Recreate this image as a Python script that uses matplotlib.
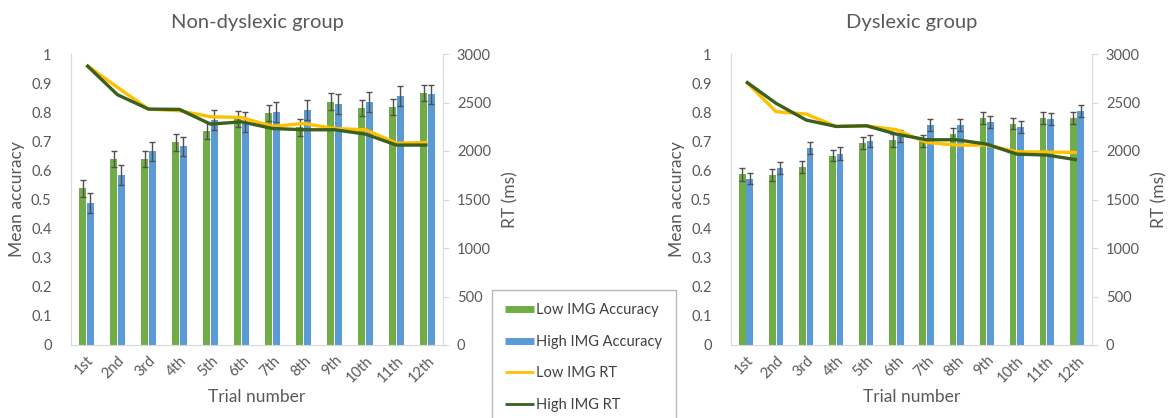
import numpy as np
import matplotlib.pyplot as plt
from matplotlib.lines import Line2D

plt.rcParams['font.family'] = ['Lato', 'DejaVu Sans']

trials = ['1st', '2nd', '3rd', '4th', '5th', '6th', '7th', '8th', '9th', '10th', '11th', '12th']

# Non-dyslexic group
nd_low_acc = [0.538, 0.638, 0.638, 0.697, 0.737, 0.776, 0.797, 0.748, 0.836, 0.814, 0.818, 0.865]
nd_high_acc = [0.489, 0.585, 0.665, 0.683, 0.773, 0.767, 0.800, 0.807, 0.828, 0.836, 0.857, 0.861]
nd_low_err = [0.029, 0.028, 0.028, 0.029, 0.030, 0.028, 0.028, 0.029, 0.029, 0.028, 0.028, 0.028]
nd_high_err = [0.034, 0.034, 0.034, 0.033, 0.033, 0.035, 0.034, 0.034, 0.035, 0.035, 0.034, 0.034]
nd_low_rt = [2886, 2656, 2432, 2415, 2353, 2346, 2253, 2284, 2232, 2219, 2081, 2088]
nd_high_rt = [2886, 2580, 2432, 2429, 2277, 2301, 2232, 2219, 2219, 2174, 2061, 2061]

# Dyslexic group
d_low_acc = [0.587, 0.584, 0.612, 0.651, 0.694, 0.704, 0.702, 0.725, 0.779, 0.761, 0.779, 0.779]
d_high_acc = [0.572, 0.609, 0.677, 0.658, 0.701, 0.719, 0.755, 0.755, 0.765, 0.750, 0.776, 0.804]
d_low_err = [0.022, 0.022, 0.021, 0.020, 0.021, 0.022, 0.020, 0.022, 0.021, 0.020, 0.021, 0.021]
d_high_err = [0.020, 0.021, 0.022, 0.021, 0.021, 0.021, 0.020, 0.020, 0.021, 0.021, 0.021, 0.020]
d_low_rt = [2715, 2405, 2381, 2253, 2260, 2219, 2088, 2061, 2061, 1992, 1989, 1985]
d_high_rt = [2715, 2491, 2319, 2253, 2260, 2174, 2116, 2116, 2071, 1968, 1958, 1909]

GREEN = '#70AD47'
BLUE = '#5B9BD5'
YELLOW = '#FFC000'
DARK = '#3A5F1E'
TEXT = '#595959'
AXIS = '#D9D9D9'


def draw_panel(fig, rect, title, low_acc, high_acc, low_err, high_err, low_rt, high_rt):
    ax = fig.add_axes(rect)
    x = np.arange(len(trials))
    w = 0.22
    err_kw = dict(ecolor='#505050', elinewidth=1, capsize=2.5, capthick=1)
    ax.bar(x - 0.125, low_acc, w, color=GREEN, yerr=low_err, error_kw=err_kw, zorder=2)
    ax.bar(x + 0.125, high_acc, w, color=BLUE, yerr=high_err, error_kw=err_kw, zorder=2)
    ax.set_xlim(-0.5, len(trials) - 0.5)
    ax.set_ylim(0, 1)
    ax.set_yticks(np.arange(0, 1.01, 0.1))
    ax.set_yticklabels(['0'] + ['%.1f' % v for v in np.arange(0.1, 0.95, 0.1)] + ['1'])
    ax.set_xticks(x)
    ax.set_xticklabels(trials, rotation=45, ha='right', rotation_mode='anchor')
    ax.tick_params(axis='y', length=0, labelsize=10.5, colors=TEXT, pad=14)
    ax.tick_params(axis='x', length=0, labelsize=10.5, colors=TEXT, pad=6)
    ax.set_ylabel('Mean accuracy', fontsize=12.5, color=TEXT, labelpad=4)
    ax.set_xlabel('Trial number', fontsize=12.5, color=TEXT, labelpad=3)
    ax.set_title(title, fontsize=14.5, color=TEXT, pad=19)
    for s in ['top', 'right']:
        ax.spines[s].set_visible(False)
    for s in ['left', 'bottom']:
        ax.spines[s].set_color(AXIS)

    ax2 = ax.twinx()
    ax2.plot(x, low_rt, color=YELLOW, lw=2.4, solid_capstyle='butt')
    ax2.plot(x, high_rt, color=DARK, lw=2.4, solid_capstyle='butt')
    ax2.set_ylim(0, 3000)
    ax2.set_yticks(np.arange(0, 3001, 500))
    ax2.tick_params(axis='y', length=4, color=AXIS, labelsize=10.5, labelcolor=TEXT, pad=6)
    ax2.set_ylabel('RT (ms)', fontsize=12.5, color=TEXT, labelpad=8)
    for s in ['top', 'left', 'bottom']:
        ax2.spines[s].set_visible(False)
    ax2.spines['right'].set_color(AXIS)
    return ax


fig = plt.figure(figsize=(11.69, 4.18), dpi=100)
W, H = 1169.0, 418.0
bottom = (H - 345) / H
height = (345 - 54) / H
draw_panel(fig, [71 / W, bottom, (443 - 71) / W, height], 'Non-dyslexic group',
           nd_low_acc, nd_high_acc, nd_low_err, nd_high_err, nd_low_rt, nd_high_rt)
draw_panel(fig, [731 / W, bottom, (1092 - 731) / W, height], 'Dyslexic group',
           d_low_acc, d_high_acc, d_low_err, d_high_err, d_low_rt, d_high_rt)

handles = [
    Line2D([], [], color=GREEN, lw=5, solid_capstyle='butt'),
    Line2D([], [], color=BLUE, lw=5, solid_capstyle='butt'),
    Line2D([], [], color=YELLOW, lw=2, solid_capstyle='butt'),
    Line2D([], [], color=DARK, lw=2, solid_capstyle='butt'),
]
labels = ['Low IMG Accuracy', 'High IMG Accuracy', 'Low IMG RT', 'High IMG RT']
leg = fig.legend(handles, labels, loc='upper left', bbox_to_anchor=(492 / W, 1 - 290 / H),
                 bbox_transform=fig.transFigure, fontsize=10.5, frameon=True, fancybox=False,
                 borderpad=0.9, labelspacing=1.2, handlelength=2.0, handletextpad=0.15,
                 borderaxespad=0)
leg.get_frame().set_edgecolor('#A6A6A6')
leg.get_frame().set_linewidth(1)
for t in leg.get_texts():
    t.set_color('#404040')

fig.savefig('out.png', dpi=100)
